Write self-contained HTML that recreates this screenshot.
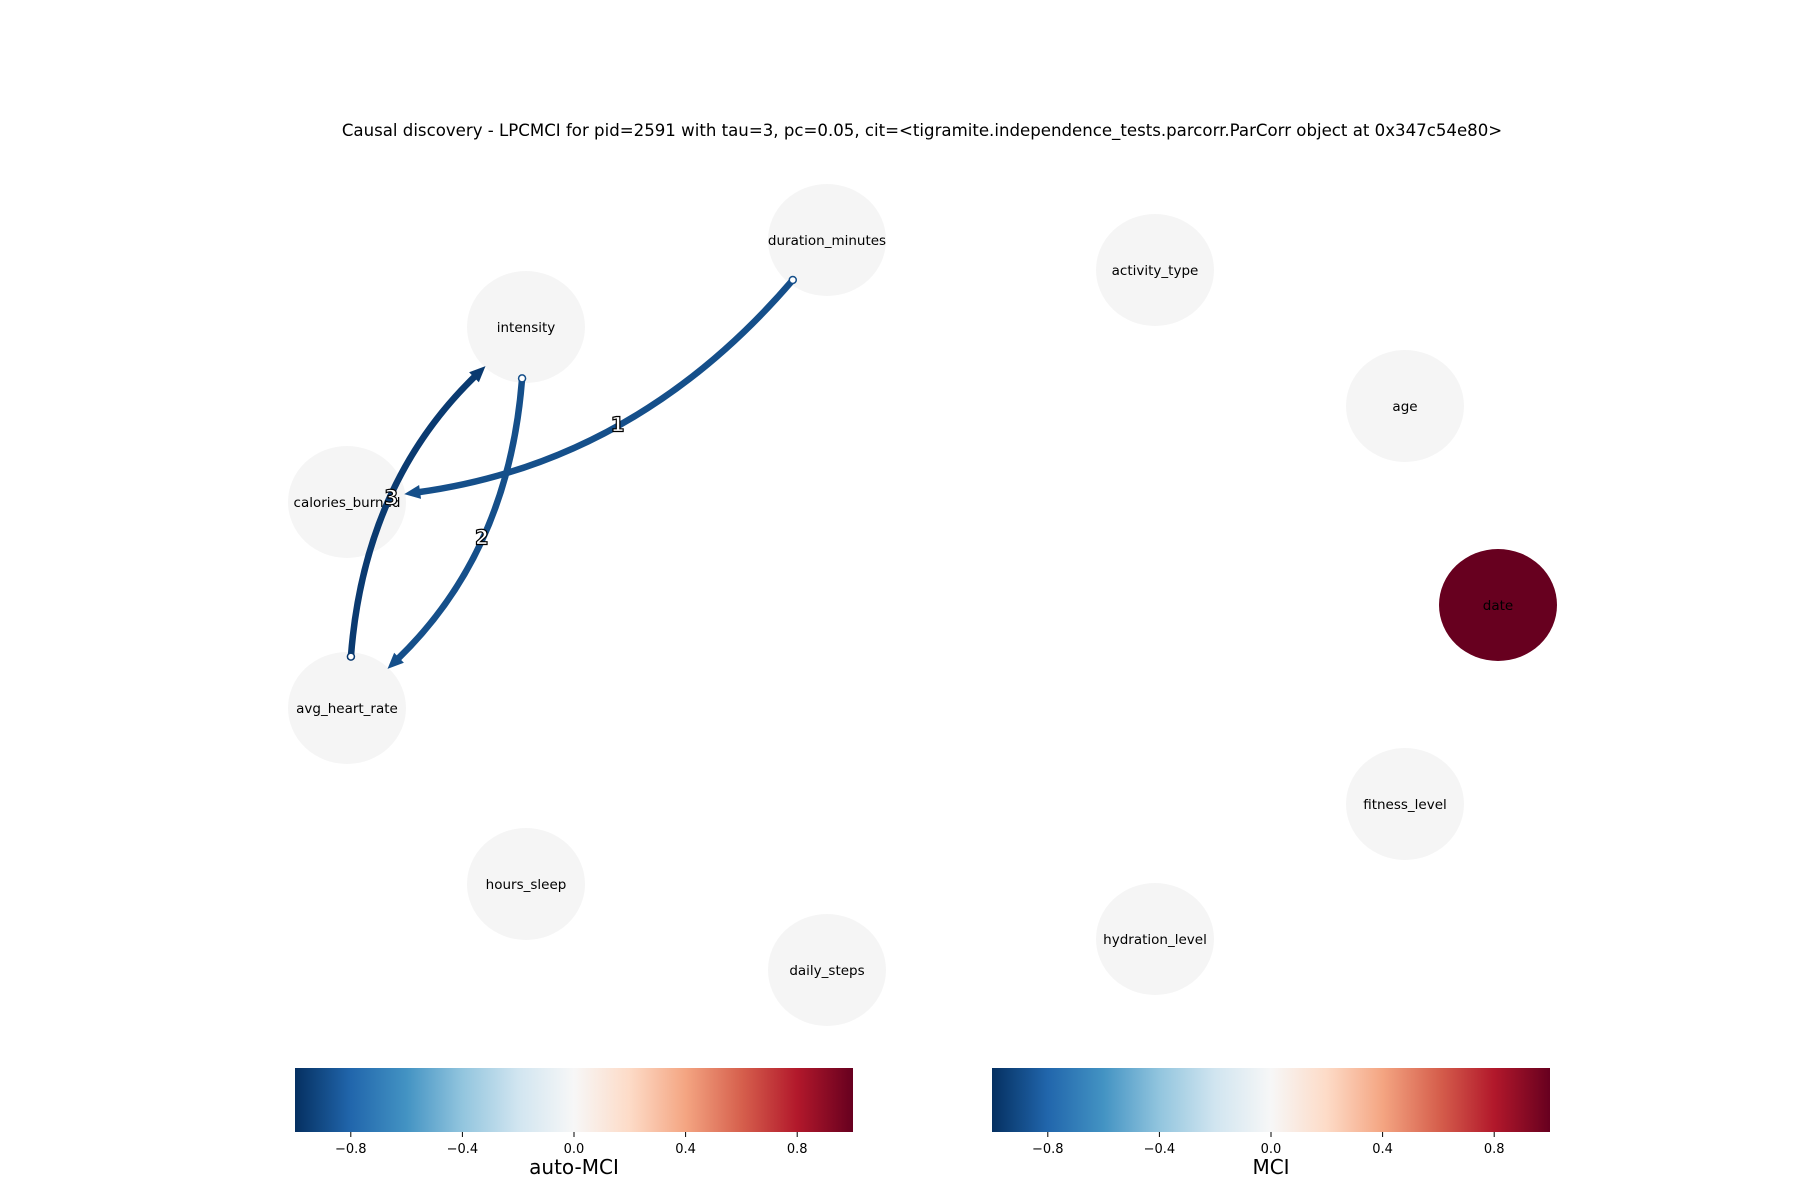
<!DOCTYPE html>
<html><head><meta charset="utf-8"><style>
html,body{margin:0;padding:0;background:#fff;}
svg{display:block;font-family:"DejaVu Sans","Liberation Sans",sans-serif;}
</style></head><body>
<svg id="chart" width="1800" height="1200" viewBox="0 0 1800 1200">
<defs>
<linearGradient id="rdbu" x1="0" x2="1" y1="0" y2="0">
<stop offset="0" stop-color="#053061"/><stop offset="0.1" stop-color="#2166ac"/><stop offset="0.2" stop-color="#4393c3"/><stop offset="0.3" stop-color="#92c5de"/><stop offset="0.4" stop-color="#d1e5f0"/><stop offset="0.5" stop-color="#f7f7f7"/><stop offset="0.6" stop-color="#fddbc7"/><stop offset="0.7" stop-color="#f4a582"/><stop offset="0.8" stop-color="#d6604d"/><stop offset="0.9" stop-color="#b2182b"/><stop offset="1" stop-color="#67001f"/>
</linearGradient>
</defs>
<text x="922" y="136" text-anchor="middle" font-size="16.6" fill="#000">Causal discovery - LPCMCI for pid=2591 with tau=3, pc=0.05, cit=&lt;tigramite.independence_tests.parcorr.ParCorr object at 0x347c54e80&gt;</text>
<g id="nodes"></g>
<g id="edges"></g>
<g id="labels"></g>
<g id="cbars"></g>
</svg>
<script>
const nodeNames = ["duration_minutes","activity_type","age","date","fitness_level","hydration_level","daily_steps","hours_sleep","avg_heart_rate","calories_burned","intensity"];
const nodeX = [827,1155,1405,1498,1405,1155,827,526,347,347,526];
const nodeY = [240,270,406,605,804,939,970,884,708,502,327];
const nodeVal = [0,0,0,1,0,0,0,0,0,0,0];
const edgeFrom = [0,10,8];
const edgeTo = [9,8,10];
const edgeLabel = ["1","2","3"];
const edgeVal = [-0.85,-0.85,-0.95];
const cbTicks = [-0.8,-0.4,0.0,0.4,0.8];
const cbTickLabels = ["\u22120.8","\u22120.4","0.0","0.4","0.8"];
const cbTitles = ["auto-MCI","MCI"];

const NS="http://www.w3.org/2000/svg";
function mk(t,a,p){const e=document.createElementNS(NS,t);for(const k in a)e.setAttribute(k,a[k]);p.appendChild(e);return e;}
function col(v){return v>0.9?"#67001f":v<-0.9?"#0a3a70":v<-0.5?"#154f8a":"#f5f5f5";}
const RX=59,RY=56;
const gE=document.getElementById('edges'),gN=document.getElementById('nodes'),gL=document.getElementById('labels'),gC=document.getElementById('cbars');
for(let i=0;i<nodeNames.length;i++){
  const c=mk('ellipse',{cx:nodeX[i],cy:nodeY[i],rx:RX,ry:RY,fill:nodeVal[i]>0.5?"#67001f":"#f5f5f5"},gN);
  
  
  const t=mk('text',{x:nodeX[i],y:nodeY[i]+5,'text-anchor':'middle','font-size':13.5,fill:'#000'},gN);
  t.textContent=nodeNames[i];
  
  
}
const bend=-0.19;
function border(x,y,tx,ty,sh){const ux=tx-x,uy=ty-y;const s=sh/Math.sqrt((ux*ux)/(RX*RX)+(uy*uy)/(RY*RY));return [x+ux*s,y+uy*s];}
for(let k=0;k<edgeFrom.length;k++){
  const a=edgeFrom[k],b=edgeTo[k];
  const x1=nodeX[a],y1=nodeY[a],x2=nodeX[b],y2=nodeY[b];
  const dx=x2-x1,dy=y2-y1;
  const mx=(x1+x2)/2,my=(y1+y2)/2;
  const cx=mx-dy*bend,cy=my+dx*bend;
  const s=border(x1,y1,cx,cy,0.92), e=border(x2,y2,cx,cy,0.98);
  const c=col(edgeVal[k]);
  const ex=e[0]-cx,ey=e[1]-cy,el=Math.hypot(ex,ey),ux=ex/el,uy=ey/el;
  const hb=[e[0]-ux*14,e[1]-uy*14];
  const p=mk('path',{d:`M${s[0]},${s[1]} Q${cx},${cy} ${hb[0]},${hb[1]}`,fill:'none',stroke:c,'stroke-width':6.5},gE);
  
  
  const ah=mk('polygon',{points:`${e[0]},${e[1]} ${hb[0]-uy*7-ux*2},${hb[1]+ux*7-uy*2} ${hb[0]+uy*7-ux*2},${hb[1]-ux*7-uy*2}`,fill:c},gE);
  
  
  const sc=mk('circle',{cx:s[0],cy:s[1],r:3.5,fill:'#fff',stroke:c,'stroke-width':1.5},gE);
  
  
  const lx=0.25*s[0]+0.5*cx+0.25*e[0],ly=0.25*s[1]+0.5*cy+0.25*e[1];
  const t=mk('text',{x:lx,y:ly+7,'text-anchor':'middle','font-size':20,fill:'#fff',stroke:'#000','stroke-width':1.2,'font-weight':'bold'},gL);
  t.textContent=edgeLabel[k];
  
  
}
const cbX=[295,992],cbW=558,cbY=1068,cbH=64;
function xs(v,i){return cbX[i]+(v+1)/2*cbW;}
for(let i=0;i<2;i++){
  const r=mk('rect',{x:cbX[i],y:cbY,width:cbW,height:cbH,fill:'url(#rdbu)'},gC);
  
  
  for(let j=0;j<cbTicks.length;j++){
    const x=xs(cbTicks[j],i);
    mk('line',{x1:x,x2:x,y1:cbY+cbH,y2:cbY+cbH+5,stroke:'#000','stroke-width':1},gC);
    const t=mk('text',{x:x,y:cbY+cbH+21,'text-anchor':'middle','font-size':13,fill:'#000'},gC);
    t.textContent=cbTickLabels[j];
    
    
  }
  const tt=mk('text',{x:cbX[i]+cbW/2,y:1174,'text-anchor':'middle','font-size':20,fill:'#000'},gC);
  tt.textContent=cbTitles[i];
  
  
}
</script>
</body></html>
